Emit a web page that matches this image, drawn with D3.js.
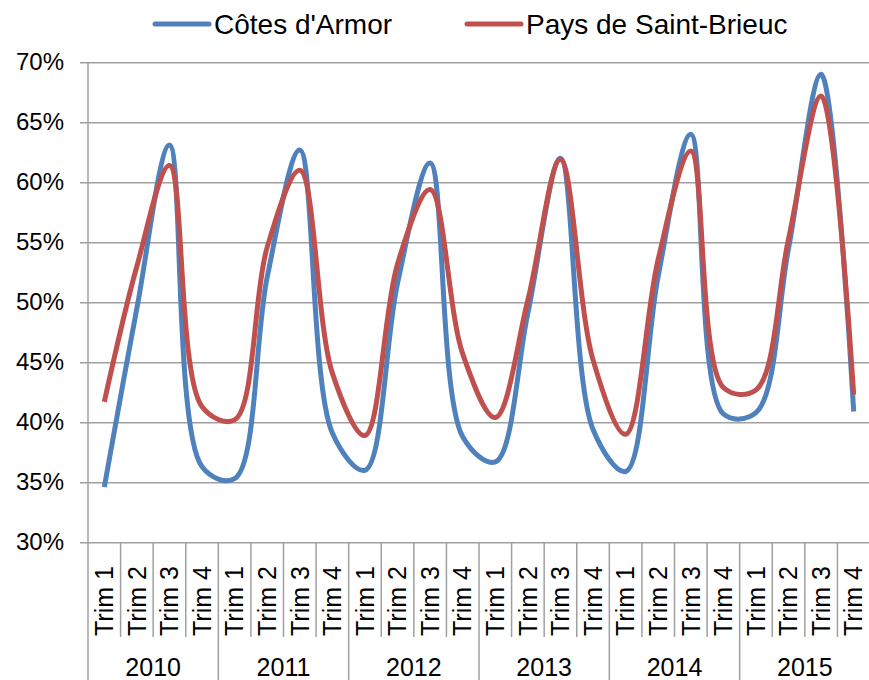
<!DOCTYPE html>
<html>
<head>
<meta charset="utf-8">
<script src="https://cdn.jsdelivr.net/npm/d3@7"></script>
<style>
  body { margin: 0; background: #fff; }
  svg { display: block; font-family: "Liberation Sans", Arial, sans-serif; }
</style>
</head>
<body>
<svg width="869" height="680"></svg>
<script>
// **** Data ****
var years = ["2010", "2011", "2012", "2013", "2014", "2015"];
var quarters = ["Trim 1", "Trim 2", "Trim 3", "Trim 4"];
var yTicks = [0.30, 0.35, 0.40, 0.45, 0.50, 0.55, 0.60, 0.65, 0.70];

var cotesArmor = [
    0.346, 0.495, 0.631, 0.363,
    0.353, 0.521, 0.627, 0.391,
    0.360, 0.516, 0.616, 0.388,
    0.367, 0.491, 0.620, 0.394,
    0.359, 0.522, 0.640, 0.407,
    0.408, 0.545, 0.690, 0.409
];
var paysSaintBrieuc = [
    0.417, 0.530, 0.614, 0.413,
    0.402, 0.546, 0.610, 0.441,
    0.389, 0.532, 0.594, 0.457,
    0.404, 0.502, 0.619, 0.452,
    0.390, 0.536, 0.626, 0.429,
    0.427, 0.553, 0.672, 0.423
];

var series = [
    { name: "Côtes d'Armor", values: cotesArmor, color: "#4F81BD" },
    { name: "Pays de Saint-Brieuc", values: paysSaintBrieuc, color: "#C0504D" }
];

// **** Scales ****
var categories = [];
years.forEach(y => quarters.forEach(q => categories.push(y + " " + q)));

var plotLeft = 88, plotRight = 870, plotTop = 62.3, plotBottom = 542.3;

var xScale = d3.scaleBand().domain(categories).range([plotLeft, plotRight]).padding(0);
var yScale = d3.scaleLinear().domain([0.30, 0.70]).range([plotBottom, plotTop]);
var yearScale = d3.scaleBand().domain(years).range([plotLeft, plotRight]).padding(0);

function xMid(i) {
    return xScale(categories[i]) + xScale.bandwidth() / 2;
}

var svg = d3.select("svg");
var gridColor = "#a0a0a0";

// horizontal gridlines + y axis
var yAxis = svg.append("g").attr("class", "y axis")
    .attr("transform", `translate(${plotLeft},0)`)
    .call(d3.axisLeft(yScale).tickValues(yTicks)
        .tickFormat(d3.format(".0%"))
        .tickSize(8).tickPadding(16));
yAxis.select(".domain").remove();
yAxis.selectAll(".tick line").attr("stroke", gridColor).attr("stroke-width", 1.5)
    .attr("x1", -8).attr("x2", plotRight - plotLeft);
yAxis.selectAll(".tick text")
    .style("font-size", "24px").attr("fill", "#000");

svg.append("line")
    .attr("x1", plotLeft).attr("x2", plotLeft)
    .attr("y1", plotTop).attr("y2", 680)
    .attr("stroke", gridColor).attr("stroke-width", 1.5);

// category separators
svg.selectAll(".sep")
    .data(categories.slice(1))
    .enter().append("line")
    .attr("class", "sep")
    .attr("x1", d => xScale(d)).attr("x2", d => xScale(d))
    .attr("y1", plotBottom)
    .attr("y2", (d, i) => (i + 1) % 4 === 0 ? 680 : 637)
    .attr("stroke", gridColor).attr("stroke-width", 1.5);

// quarter labels
svg.selectAll(".qlabel")
    .data(categories)
    .enter().append("text")
    .attr("class", "qlabel")
    .attr("transform", (d, i) => `translate(${xMid(i)},636) rotate(-90)`)
    .attr("dy", "0.35em")
    .style("font-size", "25px")
    .text(d => d.slice(5));

// year labels
svg.selectAll(".ylabel")
    .data(years)
    .enter().append("text")
    .attr("class", "ylabel")
    .attr("x", d => yearScale(d) + yearScale.bandwidth() / 2)
    .attr("y", 676)
    .attr("text-anchor", "middle")
    .style("font-size", "25px")
    .text(d => d);

// lines
var line = d3.line()
    .x((d, i) => xMid(i))
    .y(d => yScale(d))
    .curve(d3.curveCatmullRom.alpha(0.5));

svg.selectAll(".series")
    .data(series)
    .enter().append("path")
    .attr("class", "series")
    .attr("d", d => line(d.values))
    .attr("fill", "none")
    .attr("stroke", d => d.color)
    .attr("stroke-width", 5)
    .attr("stroke-linejoin", "round");

// legend
var legendX = [155, 467];
var legend = svg.selectAll(".legend")
    .data(series)
    .enter().append("g")
    .attr("class", "legend")
    .attr("transform", (d, i) => `translate(${legendX[i]},24)`);

legend.append("line")
    .attr("x1", 0).attr("x2", 54)
    .attr("stroke", d => d.color)
    .attr("stroke-width", 5)
    .attr("stroke-linecap", "round");

legend.append("text")
    .attr("x", 59).attr("y", 10)
    .style("font-size", "28px")
    .text(d => d.name);
</script>
</body>
</html>
